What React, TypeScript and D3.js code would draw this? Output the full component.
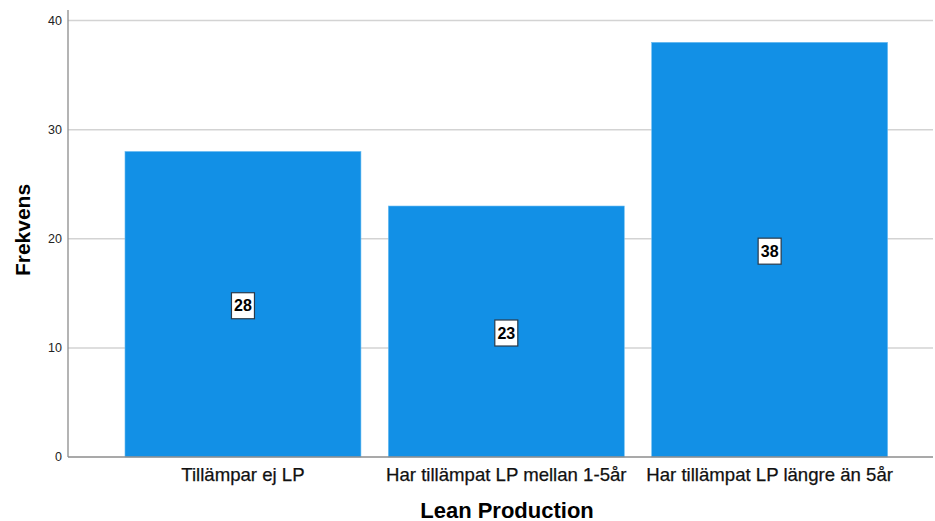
import React from "react";
import * as d3 from "d3";

// Frequency of Lean Production use
const categories: string[] = [
  "Tillämpar ej LP",
  "Har tillämpat LP mellan 1-5år",
  "Har tillämpat LP längre än 5år",
];
const counts: number[] = [28, 23, 38];
const yTicks: number[] = [0, 10, 20, 30, 40];

const W = 935;
const H = 521;
const axisX = 68;
const plotRight = 933;
const plotTop = 10;

const font = "Arial, 'Liberation Sans', Helvetica, sans-serif";

export default function App() {
  const y = d3.scaleLinear().domain([0, 40]).range([457, 20.5]);
  const x = d3
    .scaleBand<string>()
    .domain(categories)
    .range([97.6, 915])
    .padding(0.104);

  return (
    <svg
      width={W}
      height={H}
      style={{ position: "absolute", left: 0, top: 0, background: "#fff" }}
    >
      {/* horizontal grid lines */}
      {yTicks
        .filter((t) => t > 0)
        .map((t) => (
          <line
            key={"g" + t}
            x1={axisX}
            x2={plotRight}
            y1={y(t)}
            y2={y(t)}
            stroke="#d3d3d3"
            strokeWidth={1.5}
          />
        ))}

      {/* bars */}
      {categories.map((c, i) => (
        <rect
          key={"b" + c}
          x={x(c)!}
          y={y(counts[i])}
          width={x.bandwidth()}
          height={y(0) - y(counts[i])}
          fill="#1290e6"
          stroke="#6cbdf2"
          strokeWidth={0.6}
        />
      ))}

      {/* axes */}
      <line x1={axisX} x2={axisX} y1={plotTop} y2={y(0)} stroke="#8c8c8c" strokeWidth={1.3} />
      <line x1={axisX} x2={plotRight} y1={y(0)} y2={y(0)} stroke="#8c8c8c" strokeWidth={1.3} />

      {/* y tick labels */}
      {yTicks.map((t) => (
        <text
          key={"t" + t}
          x={62}
          y={y(t)}
          dy="0.35em"
          textAnchor="end"
          fontFamily={font}
          fontSize={12.5}
          fill="#222"
        >
          {t}
        </text>
      ))}

      {/* category labels */}
      {categories.map((c) => (
        <text
          key={"c" + c}
          x={x(c)! + x.bandwidth() / 2}
          y={481}
          textAnchor="middle"
          fontFamily={font}
          fontSize={18.6}
          fill="#111"
          stroke="#111"
          strokeWidth={0.25}
        >
          {c}
        </text>
      ))}

      {/* value labels */}
      {categories.map((c, i) => {
        const cx = x(c)! + x.bandwidth() / 2;
        const cy = (y(counts[i]) + y(0)) / 2 + 1.5;
        return (
          <g key={"v" + c}>
            <rect
              x={cx - 11.5}
              y={cy - 13}
              width={23}
              height={26}
              fill="#fff"
              stroke="#2a3a4a"
              strokeWidth={1.2}
            />
            <text
              x={cx}
              y={cy}
              dy="0.36em"
              textAnchor="middle"
              fontFamily={font}
              fontSize={16}
              fontWeight="bold"
              fill="#000"
            >
              {counts[i]}
            </text>
          </g>
        );
      })}

      {/* axis titles */}
      <text
        transform="translate(29.5,230) rotate(-90)"
        textAnchor="middle"
        fontFamily={font}
        fontSize={21}
        fontWeight="bold"
        fill="#000"
      >
        Frekvens
      </text>
      <text
        x={507}
        y={517.5}
        textAnchor="middle"
        fontFamily={font}
        fontSize={22}
        fontWeight="bold"
        fill="#000"
      >
        Lean Production
      </text>
    </svg>
  );
}
